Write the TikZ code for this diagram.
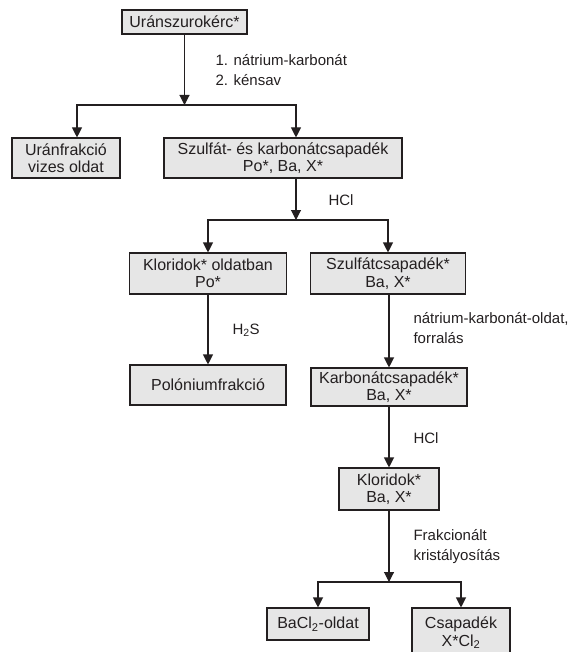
\documentclass[tikz,border=0pt]{standalone}
\usepackage{fontspec}
\setmainfont{Liberation Sans}
\usetikzlibrary{arrows.meta}
\definecolor{boxgray}{RGB}{230,230,230}
\definecolor{ink}{RGB}{35,31,32}

\begin{document}
\begin{tikzpicture}[x=1pt,y=-1pt,
  font=\fontsize{16}{17.5}\selectfont,
  box/.style={draw=ink,fill=boxgray,line width=1.1pt,align=center,inner sep=0pt,text=ink},
  flow/.style={draw=ink,line width=1.1pt,-{Triangle[length=10pt,width=10pt]}},
  note/.style={anchor=west,align=left,text=ink,font=\fontsize{15}{20}\selectfont}]
\useasboundingbox (0,0) rectangle (573,652);
\node[box,minimum width=125pt,minimum height=24pt] (ore) at (184.5,22) {Uránszurokérc*};
\node[box,minimum width=108pt,minimum height=40pt] (uran) at (66,158) {Uránfrakció\\vizes oldat};
\node[box,minimum width=238pt,minimum height=40pt] (sc) at (283,158) {Szulfát- és karbonátcsapadék\\Po*, Ba, X*};
\node[box,minimum width=157pt,minimum height=41pt] (klor1) at (208,273.5) {Kloridok* oldatban\\Po*};
\node[box,minimum width=155pt,minimum height=41pt] (szulf) at (388,273.5) {Szulfátcsapadék*\\Ba, X*};
\node[box,minimum width=156pt,minimum height=40pt] (pol) at (208,385) {Polóniumfrakció};
\node[box,minimum width=156pt,minimum height=38pt] (karb) at (389,387) {Karbonátcsapadék*\\Ba, X*};
\node[box,minimum width=100pt,minimum height=42pt] (klor2) at (389,489) {Kloridok*\\Ba, X*};
\node[box,minimum width=102pt,minimum height=32pt] (bacl) at (318,624) {BaCl\textsubscript{2}-oldat};
\node[box,minimum width=98pt,minimum height=50pt] (csap) at (461,633) {Csapadék\\X*Cl\textsubscript{2}};

\node[note] (t1) at (212,70) {1. nátrium-karbonát\\2. kénsav};
\node[note] (t2) at (325,200) {HCl};
\node[note] (t3) at (229,330) {H\textsubscript{2}S};
\node[note] (t4) at (410,328) {nátrium-karbonát-oldat,\\forralás};
\node[note] (t5) at (410,438) {HCl};
\node[note] (t6) at (410,547) {Frakcionált\\kristályosítás};

\coordinate (j1) at (184.5,105);
\coordinate (j2) at (296,220);
\coordinate (j3) at (389,582);

\draw[flow] (ore) -- (j1);
\draw[flow] (j1) -| ([xshift=11]uran.north);
\draw[flow] (j1) -| ([xshift=13]sc.north);
\draw[flow] ([xshift=13]sc.south) -- (j2);
\draw[flow] (j2) -| (klor1.north);
\draw[flow] (j2) -| (szulf.north);
\draw[flow] (klor1) -- (pol);
\draw[flow] (szulf.south -| karb.north) -- (karb);
\draw[flow] (karb) -- (klor2);
\draw[flow] (klor2) -- (j3);
\draw[flow] (j3) -| (bacl.north);
\draw[flow] (j3) -| (csap.north);
\end{tikzpicture}
\end{document}
